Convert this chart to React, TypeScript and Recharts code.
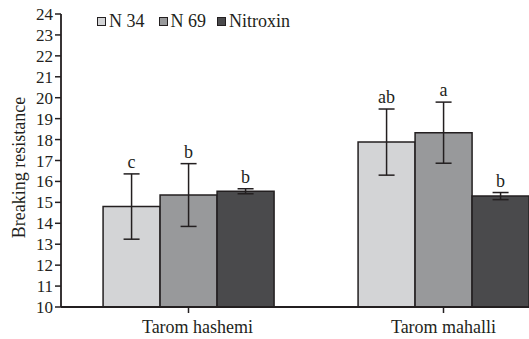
import React from 'react';
import { BarChart, Bar, XAxis, YAxis, ErrorBar, LabelList, Legend } from 'recharts';

const categories = ['Tarom hashemi', 'Tarom mahalli'];
const seriesNames = ['N 34', 'N 69', 'Nitroxin'];
const n34 = [14.8, 17.88];
const n69 = [15.35, 18.33];
const nitroxin = [15.53, 15.3];
const n34Err = [1.56, 1.58];
const n69Err = [1.5, 1.46];
const nitroxinErr = [0.12, 0.17];
const n34Letters = ['c', 'ab'];
const n69Letters = ['b', 'a'];
const nitroxinLetters = ['b', 'b'];
const yTicks = [10, 11, 12, 13, 14, 15, 16, 17, 18, 19, 20, 21, 22, 23, 24];

const data = categories.map((c, i) => ({
  name: c,
  n34: n34[i],
  n69: n69[i],
  nitroxin: nitroxin[i],
  n34Err: n34Err[i],
  n69Err: n69Err[i],
  nitroxinErr: nitroxinErr[i],
}));

const FONT = 'Liberation Serif, Tinos, DejaVu Serif, Times New Roman, serif';
const INK = '#231f20';
const colors = ['#d3d4d6', '#98999b', '#4a4a4c'];
const Y_MIN = 10;
const X_LABEL_SHIFT = [9, 0];

const makeLetterLabel = (letters: string[], errs: number[]) => (props: any) => {
  const { x, y, width, height, value, index } = props;
  const pxPerUnit = Number(height) / (Number(value) - Y_MIN);
  const errTop = Number(y) - errs[index] * pxPerUnit;
  return (
    <text
      x={Number(x) + Number(width) / 2}
      y={errTop - 6}
      textAnchor="middle"
      style={{ fontFamily: FONT, fontSize: 18 }}
      fill={INK}
    >
      {letters[index]}
    </text>
  );
};

const XTick = (props: any) => {
  const { x, y, payload, index } = props;
  return (
    <text
      x={Number(x) + (X_LABEL_SHIFT[index] || 0)}
      y={Number(y) + 14}
      textAnchor="middle"
      style={{ fontFamily: FONT, fontSize: 18 }}
      fill={INK}
    >
      {payload.value}
    </text>
  );
};

const LegendContent = () => (
  <div style={{ display: 'flex', alignItems: 'center', fontFamily: FONT, fontSize: 18, color: INK, lineHeight: '20px' }}>
    {seriesNames.map((n, i) => (
      <div key={n} style={{ display: 'flex', alignItems: 'center', marginRight: i === 0 ? 14 : 11 }}>
        <span
          style={{
            display: 'inline-block',
            width: 7,
            height: 7,
            background: colors[i],
            border: `1.5px solid ${INK}`,
            marginRight: 3,
          }}
        />
        <span>{n}</span>
      </div>
    ))}
  </div>
);

const YLabel = (props: any) => {
  const vb = props.viewBox || {};
  const cx = 25;
  const cy = Number(vb.y) + Number(vb.height) / 2 + 7;
  return (
    <text
      x={cx}
      y={cy}
      transform={`rotate(-90, ${cx}, ${cy})`}
      textAnchor="middle"
      style={{ fontFamily: FONT, fontSize: 18 }}
      fill={INK}
    >
      Breaking resistance
    </text>
  );
};

export default function App() {
  return (
    <div style={{ position: 'absolute', left: 0, top: 0, width: 529, height: 339, overflow: 'hidden', background: '#fff', fontFamily: FONT }}>
      <BarChart
        width={572}
        height={339}
        data={data}
        margin={{ top: 14, right: 1, bottom: 0, left: 0 }}
        barGap={0}
        barCategoryGap="16.5%"
        style={{ fontFamily: FONT }}
      >
        <XAxis
          dataKey="name"
          height={32}
          axisLine={{ stroke: INK, strokeWidth: 1.8 }}
          tickLine={{ stroke: INK, strokeWidth: 1.5 }}
          tickSize={6}
          tickMargin={6}
          tick={<XTick />}
        />
        <YAxis
          width={61}
          domain={[10, 24]}
          ticks={yTicks}
          interval={0}
          allowDataOverflow
          axisLine={{ stroke: INK, strokeWidth: 1.8 }}
          tickLine={{ stroke: INK, strokeWidth: 1.5 }}
          tickSize={6}
          tickMargin={2}
          tick={{ fontSize: 17, fill: INK, style: { fontFamily: FONT } }}
          label={<YLabel />}
        />
        <Legend
          verticalAlign="middle"
          align="center"
          layout="horizontal"
          content={<LegendContent />}
          wrapperStyle={{ position: 'absolute', top: 11, left: 97, width: 'auto', height: 'auto' }}
        />
        <Bar dataKey="n34" name={seriesNames[0]} fill={colors[0]} stroke={INK} strokeWidth={1.5} isAnimationActive={false}>
          <ErrorBar dataKey="n34Err" width={8} stroke={INK} strokeWidth={1.5} isAnimationActive={false} />
          <LabelList dataKey="n34" content={makeLetterLabel(n34Letters, n34Err)} />
        </Bar>
        <Bar dataKey="n69" name={seriesNames[1]} fill={colors[1]} stroke={INK} strokeWidth={1.5} isAnimationActive={false}>
          <ErrorBar dataKey="n69Err" width={8} stroke={INK} strokeWidth={1.5} isAnimationActive={false} />
          <LabelList dataKey="n69" content={makeLetterLabel(n69Letters, n69Err)} />
        </Bar>
        <Bar dataKey="nitroxin" name={seriesNames[2]} fill={colors[2]} stroke={INK} strokeWidth={1.5} isAnimationActive={false}>
          <ErrorBar dataKey="nitroxinErr" width={8} stroke={INK} strokeWidth={1.5} isAnimationActive={false} />
          <LabelList dataKey="nitroxin" content={makeLetterLabel(nitroxinLetters, nitroxinErr)} />
        </Bar>
      </BarChart>
    </div>
  );
}
